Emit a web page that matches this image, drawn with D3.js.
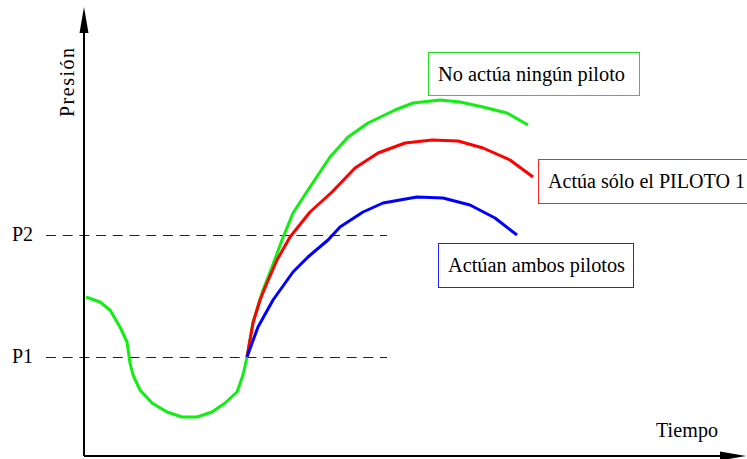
<!DOCTYPE html>
<html lang="es">
<head>
<meta charset="UTF-8">
<title>Presión - Tiempo</title>
<script src="https://cdn.jsdelivr.net/npm/d3@7"></script>
<style>
    body { margin: 0; background: #fff; }
    text { font-family: "Liberation Serif", "Times New Roman", serif; fill: #000; }
</style>
</head>
<body>
<svg width="747" height="459" class="chart"></svg>
<script>
    // tiempo / presion en unidades arbitrarias
    var sinPiloto = [
        [0.1, 15.9], [1.5, 15.4], [2.5, 14.6], [3.5, 12.9], [4.2, 11.4], [4.5, 9.3],
        [4.8, 8.1], [5.5, 6.6], [6.7, 5.3], [8.2, 4.4], [9.7, 3.9], [11.2, 3.9],
        [12.7, 4.4], [14.0, 5.3], [15.2, 6.4], [15.8, 8.1], [16.2, 9.9], [16.8, 13.4],
        [17.8, 16.6], [18.7, 18.9], [19.7, 21.6], [20.8, 24.3], [22.3, 26.6], [24.5, 29.9],
        [26.3, 31.9], [28.3, 33.3], [31.0, 34.6], [32.8, 35.3], [35.5, 35.6], [37.5, 35.4],
        [39.8, 34.9], [42.2, 34.3], [44.3, 33.1]
    ];
    var piloto1 = [
        [16.2, 9.9], [16.8, 13.3], [17.5, 15.6], [18.2, 17.3], [19.2, 19.6], [20.5, 21.9],
        [22.5, 24.4], [24.7, 26.4], [27.0, 28.8], [29.3, 30.3], [32.0, 31.3], [34.7, 31.6],
        [37.3, 31.5], [39.8, 30.8], [42.5, 29.6], [44.8, 27.9]
    ];
    var ambosPilotos = [
        [16.2, 9.9], [17.3, 12.9], [18.8, 15.6], [20.8, 18.4], [22.3, 19.9], [24.3, 21.6],
        [25.5, 22.9], [27.8, 24.4], [29.8, 25.3], [33.2, 25.9], [35.8, 25.8], [38.5, 25.1],
        [41.0, 23.8], [43.2, 22.1]
    ];
    var niveles = [["P1", 9.9], ["P2", 22.1]];
    var etiquetas = ["No actúa ningún piloto", "Actúa sólo el PILOTO 1", "Actúan ambos pilotos"];

    var svg = d3.select("svg.chart");

    var x = d3.scaleLinear().domain([0, 66]).range([85, 745]),
        y = d3.scaleLinear().domain([0, 44.8]).range([456, 8]);

    var line = d3.line()
        .x(function (d) { return x(d[0]); })
        .y(function (d) { return y(d[1]); });

    // lineas de nivel P1, P2
    niveles.forEach(function (n) {
        var yy = Math.round(y(n[1])) + 0.5;
        svg.append("line")
            .attr("x1", 46).attr("x2", x(30.2))
            .attr("y1", yy).attr("y2", yy)
            .attr("stroke", "#222")
            .attr("stroke-width", 1)
            .attr("stroke-dasharray", "10,6.7");
        svg.append("text")
            .attr("x", 12)
            .attr("y", y(n[1]) + 6)
            .attr("font-size", "20px")
            .text(n[0]);
    });

    // curvas
    var series = [
        { data: sinPiloto, color: "#11ee11" },
        { data: piloto1, color: "#ff0000" },
        { data: ambosPilotos, color: "#0000ff" }
    ];
    // se dibuja azul y rojo encima del verde
    series.forEach(function (s) {
        svg.append("path")
            .datum(s.data)
            .attr("d", line)
            .attr("fill", "none")
            .attr("stroke", s.color)
            .attr("stroke-width", 3)
            .attr("stroke-linejoin", "round");
    });

    // ejes con flecha
    svg.append("line")
        .attr("x1", 84).attr("x2", 84)
        .attr("y1", y(0)).attr("y2", 30)
        .attr("stroke", "#000").attr("stroke-width", 2);
    svg.append("path")
        .attr("d", "M84,7 L79.5,33 L88.5,33 Z")
        .attr("fill", "#000");
    svg.append("line")
        .attr("x1", 84).attr("x2", 725)
        .attr("y1", y(0)).attr("y2", y(0))
        .attr("stroke", "#000").attr("stroke-width", 2);
    svg.append("path")
        .attr("d", "M746,456 L720,451.5 L720,460.5 Z")
        .attr("fill", "#000");

    svg.append("text")
        .attr("transform", "translate(74,117) rotate(-90)")
        .attr("font-size", "20px")
        .attr("textLength", 69)
        .text("Presión");
    svg.append("text")
        .attr("x", 656)
        .attr("y", 437)
        .attr("font-size", "20px")
        .attr("textLength", 62)
        .text("Tiempo");

    // cajas de leyenda
    var cajas = [
        { t: etiquetas[0], color: "#22dd22", x0: 428, y0: 52, w: 211, h: 43, tx: 438, ty: 81, tl: 187 },
        { t: etiquetas[1], color: "#ff2222", x0: 538, y0: 159, w: 210, h: 44, tx: 548, ty: 188, tl: 197 },
        { t: etiquetas[2], color: "#2222ff", x0: 438, y0: 243, w: 195, h: 44, tx: 448, ty: 272, tl: 177 }
    ];
    cajas.forEach(function (c) {
        svg.append("rect")
            .attr("x", c.x0 + 0.5).attr("y", c.y0 + 0.5)
            .attr("width", c.w).attr("height", c.h)
            .attr("fill", "#fff")
            .attr("stroke", c.color)
            .attr("stroke-width", 1);
        svg.append("text")
            .attr("x", c.tx).attr("y", c.ty)
            .attr("font-size", "20px")
            .attr("textLength", c.tl)
            .attr("lengthAdjust", "spacingAndGlyphs")
            .text(c.t);
    });
</script>
</body>
</html>
